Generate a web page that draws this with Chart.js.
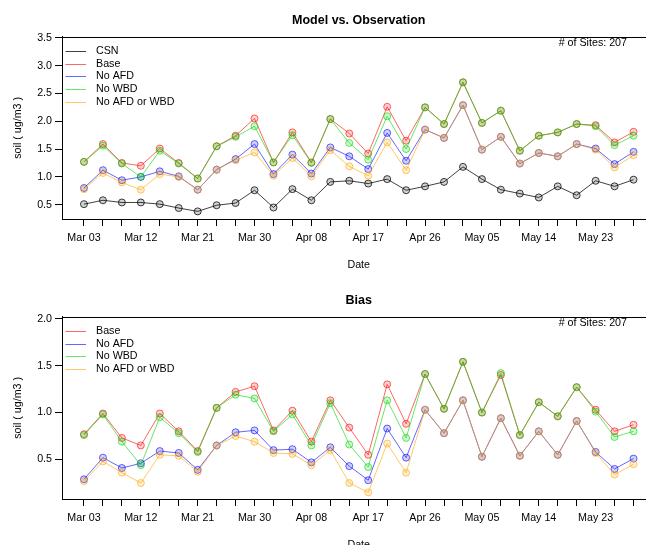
<!DOCTYPE html>
<html><head><meta charset="utf-8">
<script src="https://cdn.jsdelivr.net/npm/chart.js@4"></script>
<style>
html,body{margin:0;padding:0;background:#fff;overflow:hidden;width:646px;height:545px;}
canvas{position:absolute;left:0;}
#c1{top:0px}
#c2{top:280px}
</style></head><body>
<canvas id="c1" width="660" height="280"></canvas>
<canvas id="c2" width="660" height="280"></canvas>
<script>
// ---------- data ----------
const dates = ['Mar 03','Mar 06','Mar 09','Mar 12','Mar 15','Mar 18','Mar 21','Mar 24','Mar 27','Mar 30',
  'Apr 02','Apr 05','Apr 08','Apr 11','Apr 14','Apr 17','Apr 20','Apr 23','Apr 26','Apr 29',
  'May 02','May 05','May 08','May 11','May 14','May 17','May 20','May 23','May 26','May 29'];

// Model vs. Observation
const obsCSN    = [0.51,0.58,0.54,0.54,0.51,0.44,0.38,0.49,0.53,0.76,0.45,0.78,0.58,0.91,0.93,0.88,0.96,0.76,0.83,0.91,1.18,0.96,0.77,0.70,0.63,0.83,0.67,0.93,0.83,0.95];
const modBase   = [1.27,1.59,1.25,1.20,1.51,1.25,0.97,1.55,1.74,2.05,1.26,1.80,1.26,2.04,1.78,1.42,2.26,1.65,2.25,1.95,2.70,1.97,2.19,1.47,1.74,1.80,1.95,1.93,1.62,1.81];
const modNoAFD  = [0.80,1.12,0.94,1.00,1.10,1.01,0.77,1.13,1.32,1.59,1.05,1.40,1.06,1.53,1.37,1.14,1.79,1.29,1.85,1.70,2.29,1.49,1.72,1.24,1.43,1.37,1.59,1.51,1.23,1.45];
const modNoWBD  = [1.27,1.56,1.24,1.00,1.47,1.24,0.97,1.55,1.72,1.91,1.26,1.75,1.25,2.04,1.61,1.31,2.09,1.50,2.25,1.95,2.70,1.97,2.19,1.47,1.74,1.80,1.95,1.91,1.57,1.74];
const modNoBoth = [0.78,1.07,0.90,0.77,1.05,1.00,0.77,1.13,1.30,1.44,1.02,1.34,1.01,1.48,1.19,1.02,1.62,1.12,1.85,1.70,2.29,1.49,1.72,1.24,1.43,1.37,1.59,1.49,1.17,1.39];

// Bias
const biasBase   = [0.77,0.99,0.73,0.65,0.99,0.80,0.59,1.05,1.22,1.28,0.81,1.02,0.69,1.13,0.84,0.55,1.30,0.88,1.41,1.04,1.54,1.00,1.40,0.76,1.11,0.96,1.27,1.03,0.80,0.87];
const biasNoAFD  = [0.29,0.52,0.41,0.46,0.59,0.57,0.39,0.65,0.79,0.81,0.60,0.61,0.47,0.63,0.43,0.28,0.83,0.52,1.03,0.78,1.13,0.53,0.94,0.54,0.80,0.55,0.91,0.58,0.40,0.51];
const biasNoWBD  = [0.76,0.98,0.69,0.44,0.95,0.78,0.58,1.05,1.19,1.15,0.80,0.98,0.65,1.10,0.66,0.42,1.13,0.73,1.41,1.04,1.54,1.00,1.42,0.76,1.11,0.96,1.27,1.01,0.74,0.80];
const biasNoBoth = [0.27,0.48,0.36,0.25,0.55,0.54,0.37,0.65,0.75,0.69,0.57,0.56,0.44,0.60,0.25,0.15,0.67,0.36,1.03,0.78,1.13,0.53,0.94,0.54,0.80,0.55,0.91,0.57,0.34,0.45];

const seriesNames = ['CSN','Base','No AFD','No WBD','No AFD or WBD'];
const topYTicks  = [0.5,1.0,1.5,2.0,2.5,3.0,3.5];
const biasYTicks = [0.5,1.0,1.5,2.0];
const siteNote = '# of Sites: 207';
const titleTop = 'Model vs. Observation';
const titleBias = 'Bias';
const yTitle = 'soil ( ug/m3 )';
const xTitle = 'Date';

// ---------- styling ----------
const FONT = '"Liberation Sans", Arial, Helvetica, sans-serif';
const FS = 10.7;
const COLORS = {
  'CSN': [0,0,0],
  'Base': [255,0,0],
  'No AFD': [0,0,255],
  'No WBD': [0,215,0],
  'No AFD or WBD': [255,165,0]
};
const rgba = (c,a) => `rgba(${c[0]},${c[1]},${c[2]},${a})`;

function ds(name, values, idx) {
  const c = COLORS[name];
  const a = name === 'CSN' ? 0.75 : 0.6;
  return {
    label: name,
    data: values.map((v,i) => ({x:i, y:v})),
    borderColor: rgba(c,a),
    backgroundColor: rgba(c,0.18),
    pointBorderColor: rgba(c,a),
    pointBackgroundColor: rgba(c,0.18),
    borderWidth: 1,
    pointRadius: 3.5,
    pointBorderWidth: 1,
    pointHoverRadius: 3.5,
    tension: 0,
    order: -idx,
    fill: false
  };
}

const framePlugin = {
  id: 'frameAndLegend',
  afterDraw(chart) {
    const ctx = chart.ctx;
    const a = chart.chartArea;
    ctx.save();
    ctx.strokeStyle = '#000';
    ctx.lineWidth = 1;
    ctx.strokeRect(Math.round(a.left)+0.5, Math.round(a.top)+0.5, Math.round(a.right-a.left), Math.round(a.bottom-a.top));
    // legend
    ctx.font = `${FS}px ${FONT}`;
    ctx.textBaseline = 'middle';
    ctx.textAlign = 'left';
    chart.data.datasets.forEach((d, i) => {
      const y = 51 + i * 12.65;
      ctx.strokeStyle = d.borderColor;
      ctx.beginPath();
      ctx.moveTo(65.5, Math.round(y)+0.5);
      ctx.lineTo(86, Math.round(y)+0.5);
      ctx.stroke();
      ctx.fillStyle = '#000';
      ctx.fillText(d.label, 96, y);
    });
    // site note
    ctx.textAlign = 'right';
    ctx.fillStyle = '#000';
    ctx.font = `${FS}px ${FONT}`;
    ctx.fillText(siteNote, 627, 43);
    ctx.restore();
  }
};

function makeChart(id, title, datasets, yMin, yMax, yTicks) {
  const tickFont = {family: FONT, size: FS};
  return new Chart(document.getElementById(id), {
    type: 'line',
    data: {datasets},
    plugins: [framePlugin],
    options: {
      responsive: false,
      animation: false,
      devicePixelRatio: 1,
      layout: {padding: {left: 0, right: 3, top: 0, bottom: 0}},
      plugins: {
        legend: {display: false},
        tooltip: {enabled: false},
        title: {
          display: true, text: title, fullSize: false, color: '#000',
          font: {family: FONT, size: 12.5, weight: 'bold'},
          padding: {top: 13.3, bottom: 8.4}
        }
      },
      scales: {
        x: {
          type: 'linear', min: -1.16, max: 30.16,
          afterBuildTicks: s => { s.ticks = dates.map((d,i) => ({value: i})); },
          afterFit: s => { s.height = 61; },
          ticks: {
            autoSkip: false, maxRotation: 0, minRotation: 0, padding: 6, color: '#000', font: tickFont,
            callback: (v, i) => (i % 3 === 0 ? dates[i] : '')
          },
          grid: {display: true, drawOnChartArea: false, drawTicks: true, tickLength: 7, color: '#000', lineWidth: 1},
          border: {display: true, color: '#000', width: 1},
          title: {display: true, text: xTitle, color: '#000', font: tickFont, padding: {top: 0, bottom: 8.6}}
        },
        y: {
          type: 'linear', min: yMin, max: yMax,
          afterBuildTicks: s => { s.ticks = yTicks.map(v => ({value: v})); },
          afterFit: s => { s.width = 62; },
          ticks: {padding: 3, color: '#000', font: tickFont, callback: v => Number(v).toFixed(1)},
          grid: {display: true, drawOnChartArea: false, drawTicks: true, tickLength: 7, color: '#000', lineWidth: 1},
          border: {display: true, color: '#000', width: 1},
          title: {display: true, text: yTitle, color: '#000', font: tickFont, padding: {top: 11.6, bottom: 0}}
        }
      }
    }
  });
}

makeChart('c1', titleTop, [
  ds(seriesNames[0], obsCSN, 0),
  ds(seriesNames[1], modBase, 1),
  ds(seriesNames[2], modNoAFD, 2),
  ds(seriesNames[3], modNoWBD, 3),
  ds(seriesNames[4], modNoBoth, 4)
], 0.243, 3.52, topYTicks);

makeChart('c2', titleBias, [
  ds(seriesNames[1], biasBase, 1),
  ds(seriesNames[2], biasNoAFD, 2),
  ds(seriesNames[3], biasNoWBD, 3),
  ds(seriesNames[4], biasNoBoth, 4)
], 0.08, 2.02, biasYTicks);
</script>
</body></html>
